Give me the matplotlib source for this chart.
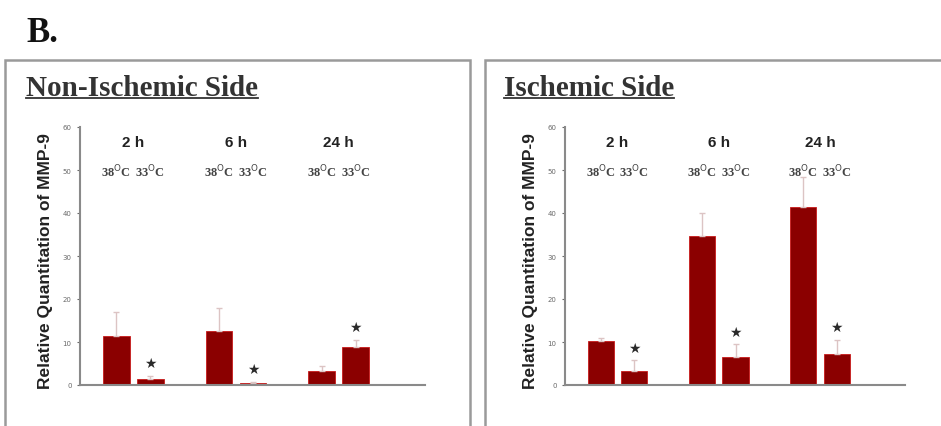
import matplotlib.pyplot as plt
from matplotlib.patches import Rectangle
from matplotlib.lines import Line2D
import numpy as np

# data
hours = ['2 h', '6 h', '24 h']
temps = ['38', '33']
non_isch_38 = [11.5, 12.5, 3.2]
non_isch_33 = [1.5, 0.5, 8.8]
non_isch_38_err = [5.5, 5.5, 1.3]
non_isch_33_err = [0.7, 0.3, 1.7]
isch_38 = [10.2, 34.6, 41.4]
isch_33 = [3.3, 6.5, 7.2]
isch_38_err = [0.8, 5.5, 7.0]
isch_33_err = [2.5, 3.0, 3.3]

bar_col = '#8b0000'
edge_col = '#c81a1a'
err_col = '#dcc4c4'

W, H = 941, 427
fig = plt.figure(figsize=(W / 100, H / 100), dpi=100)


def px(x, y):
    return x / W, 1 - y / H


fig.text(*px(26, 42), 'B.', fontsize=25, fontweight='bold',
         family='Liberation Serif', ha='left', va='baseline', color='#111111')

# panel frames
for x0, x1 in [(5, 470), (485, 950)]:
    fig.add_artist(Rectangle(px(x0, 440), (x1 - x0) / W, (440 - 61) / H,
                             transform=fig.transFigure, fill=False,
                             edgecolor='#9a9a9a', linewidth=1.8))


def panel(ax_left, ax_right, title, tx, v38, v33, e38, e33, ylab_x):
    left, bottom = px(ax_left, 386)
    right, top = px(ax_right, 128)
    ax = fig.add_axes([left, bottom, right - left, top - bottom])
    x = np.arange(len(hours))
    w = 0.26
    off = 0.165
    ax.bar(x - off, v38, w, color=bar_col, edgecolor=edge_col, linewidth=0.6)
    ax.bar(x + off, v33, w, color=bar_col, edgecolor=edge_col, linewidth=0.6)
    ax.errorbar(x - off, v38, yerr=[np.zeros(3), e38], fmt='none',
                ecolor=err_col, elinewidth=1, capsize=2.5, capthick=1)
    ax.errorbar(x + off, v33, yerr=[np.zeros(3), e33], fmt='none',
                ecolor=err_col, elinewidth=1, capsize=2.5, capthick=1)
    for i in range(len(hours)):
        ax.annotate('★', (x[i] + off, v33[i] + e33[i]), xytext=(0, 4),
                    textcoords='offset points', ha='center', va='bottom',
                    fontsize=10, color='#2a2a2a', family='DejaVu Sans')
        ax.text(x[i], 56.5, hours[i], ha='center', va='center',
                fontsize=11, fontweight='bold', family='Liberation Sans',
                color='#222222')
        for j, t in enumerate(temps):
            ax.text(x[i] + (off if j else -off), 49.8,
                    t + r'$^{\mathrm{O}}$C', ha='center', va='center',
                    fontsize=9, family='Liberation Serif', fontweight='bold',
                    color='#444444')
    ax.set_ylim(0, 60)
    ax.set_xlim(-0.52, 2.84)
    ax.set_yticks(range(0, 61, 10))
    ax.set_xticks([])
    ax.tick_params(axis='y', labelsize=5, length=2.5, colors='#6a6a6a')
    for s in ['top', 'right']:
        ax.spines[s].set_visible(False)
    for s in ['left', 'bottom']:
        ax.spines[s].set_color('#8a8a8a')
        ax.spines[s].set_linewidth(1.5)
    fig.text(*px(ylab_x, 261), 'Relative Quantitation of MMP-9',
             rotation=90, ha='center', va='center', fontsize=12.5,
             fontweight='bold', family='Liberation Sans', color='#222222')
    t = fig.text(*px(tx, 96), title, fontsize=21, fontweight='bold',
                 family='Liberation Serif', ha='left', va='baseline',
                 color='#333333')
    return ax, t


ax1, t1 = panel(80, 425, 'Non-Ischemic Side', 26, non_isch_38, non_isch_33,
                non_isch_38_err, non_isch_33_err, 46)
ax2, t2 = panel(565, 905, 'Ischemic Side', 504, isch_38, isch_33,
                isch_38_err, isch_33_err, 530)

# underline titles
fig.canvas.draw()
r = fig.canvas.get_renderer()
for t in [t1, t2]:
    bb = t.get_window_extent(r).transformed(fig.transFigure.inverted())
    y = 1 - 99 / H
    fig.add_artist(Line2D([bb.x0, bb.x1], [y, y], transform=fig.transFigure,
                          color='#333333', linewidth=1.3))

fig.savefig('out.png', dpi=100)
